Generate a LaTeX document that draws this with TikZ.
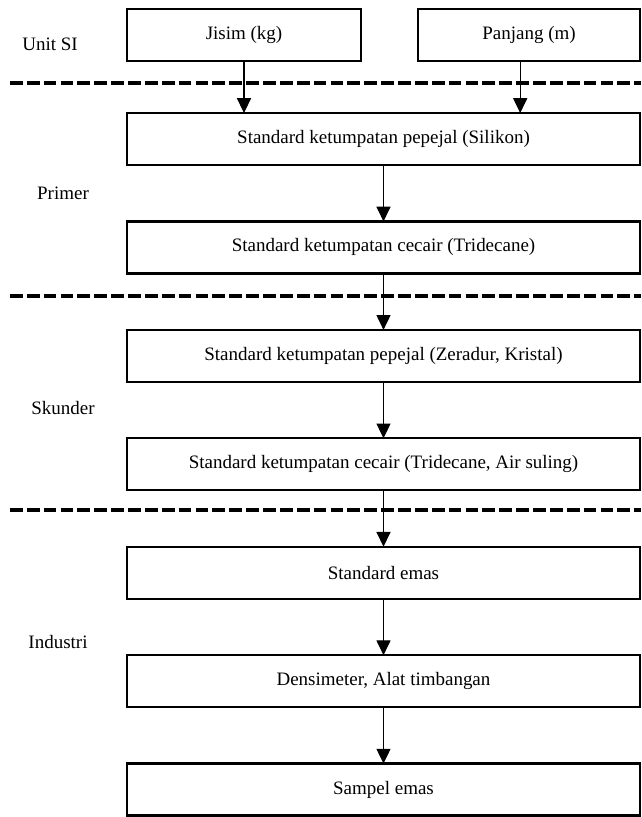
\documentclass[tikz,border=0pt]{standalone}
\usepackage{fontspec}
\setmainfont{Liberation Serif}
\usetikzlibrary{positioning,arrows.meta}

\begin{document}
\begin{tikzpicture}[x=0.025cm,y=-0.025cm,>={Triangle[length=10.5pt,width=10pt]},node distance=1.41cm,
  box/.style={rectangle,draw,line width=1.6pt,minimum height=1.3cm,inner sep=0pt,outer sep=0pt,font=\fontsize{13.5}{16}\selectfont},
  wide/.style={box,minimum width=12.83cm},
  lbl/.style={font=\fontsize{13.5}{16}\selectfont},
  flow/.style={->,line width=0.75pt},
  sep/.style={line width=2.4pt,dash pattern=on 9pt off 3pt}]

  \useasboundingbox (0,0) rectangle (641,817);

  % Unit SI
  \node[box,minimum width=5.85cm] (jisim) at (244,35) {Jisim (kg)};
  \node[box,minimum width=5.55cm] (panjang) at (529,35) {Panjang (m)};

  % primer, skunder, industri
  \node[wide] (p1) at (383.5,139) {Standard ketumpatan pepejal (Silikon)};
  \node[wide] (p2) [below=of p1] {Standard ketumpatan cecair (Tridecane)};
  \node[wide] (s1) [below=of p2] {Standard ketumpatan pepejal (Zeradur, Kristal)};
  \node[wide] (s2) [below=of s1] {Standard ketumpatan cecair (Tridecane, Air suling)};
  \node[wide] (i1) [below=of s2] {Standard emas};
  \node[wide] (i2) [below=of i1] {Densimeter, Alat timbangan};
  \node[wide] (i3) [below=of i2] {Sampel emas};

  \node[lbl] (unitsi) at (50,44) {Unit SI};
  \node[lbl] (primer) at (63,193) {Primer};
  \node[lbl] (skunder) at (63,408) {Skunder};
  \node[lbl] (industri) at (58,642) {Industri};

  \foreach \y in {83,296,510}
    \draw[sep] (10,\y) -- (641,\y);

  \coordinate (pj) at ([xshift=-0.22cm]panjang.south);
  \draw[flow] (jisim) -- (jisim |- p1.north);
  \draw[flow] (pj) -- (pj |- p1.north);
  \foreach \a/\b in {p1/p2,p2/s1,s1/s2,s2/i1,i1/i2,i2/i3}
    \draw[flow] (\a) -- (\b);

\end{tikzpicture}
\end{document}
